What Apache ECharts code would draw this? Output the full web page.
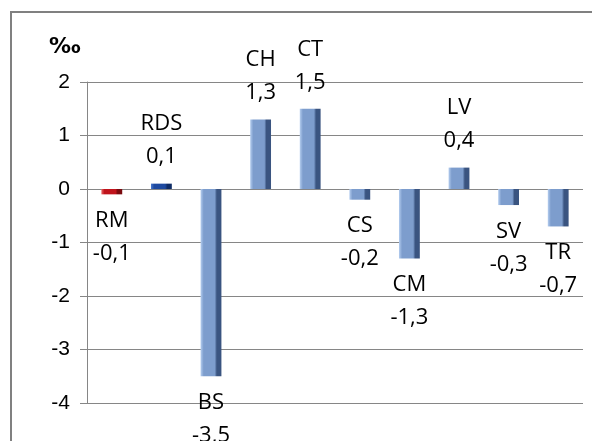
<!DOCTYPE html>
<html><head><meta charset="utf-8">
<script src="https://cdn.jsdelivr.net/npm/echarts@6/dist/echarts.min.js"></script>
<style>html,body{margin:0;padding:0;background:#fff;overflow:hidden}#c{width:592px;height:441px}</style>
</head><body><div id="c"></div>
<script>
var categories = ['RM','RDS','BS','CH','CT','CS','CM','LV','SV','TR'];
var values = [-0.1, 0.1, -3.5, 1.3, 1.5, -0.2, -1.3, 0.4, -0.3, -0.7];
var yTicks = [-4,-3,-2,-1,0,1,2];
var unitLabel = '‰';

function grad(light, mid, dark){
  return {type:'linear',x:0,y:0,x2:1,y2:0,colorStops:[
    {offset:0,color:light},{offset:0.15,color:mid},{offset:0.68,color:mid},{offset:0.78,color:dark},{offset:1,color:dark}]};
}
var steel = grad('#b4cdef','#7d9dcd','#3a5480');
var red = grad('#e86060','#c0141c','#7a0a0e');
var navy = grad('#4a7ad0','#1e4aa0','#0f2c66');

var data = values.map(function(v,i){
  var c = i===0 ? red : (i===1 ? navy : steel);
  return {value:v, itemStyle:{color:c}, label:{position: v<0?'bottom':'top'}};
});

var chart = echarts.init(document.getElementById('c'));
chart.setOption({
  animation:false,
  grid:{left:87,right:9,top:82,bottom:38,show:false},
  graphic:[
    {type:'polyline',shape:{points:[[11,460],[11,12],[600,12]]},style:{fill:null,stroke:'#808080',lineWidth:2},silent:true},
    {type:'text',x:49,y:36,style:{text:unitLabel,font:'bold 22px "DejaVu Sans"',fill:'#000'},silent:true}
  ],
  xAxis:{type:'category',data:categories,show:false},
  yAxis:{type:'value',min:yTicks[0],max:yTicks[yTicks.length-1],interval:1,
    axisLine:{show:true,lineStyle:{color:'#868686',width:1}},
    axisTick:{show:true,length:7,lineStyle:{color:'#868686'}},
    axisLabel:{margin:17,color:'#000',fontSize:21,fontFamily:'Liberation Sans'},
    splitLine:{lineStyle:{color:'#868686',width:1}}},
  series:[{type:'bar',data:data,barWidth:'42%',
    label:{show:true,distance:10,color:'#000',fontSize:22,fontFamily:'Open Sans',lineHeight:33,
      formatter:function(p){return categories[p.dataIndex]+'\n'+String(p.value).replace('.',',');}}
  }]
});
</script></body></html>
